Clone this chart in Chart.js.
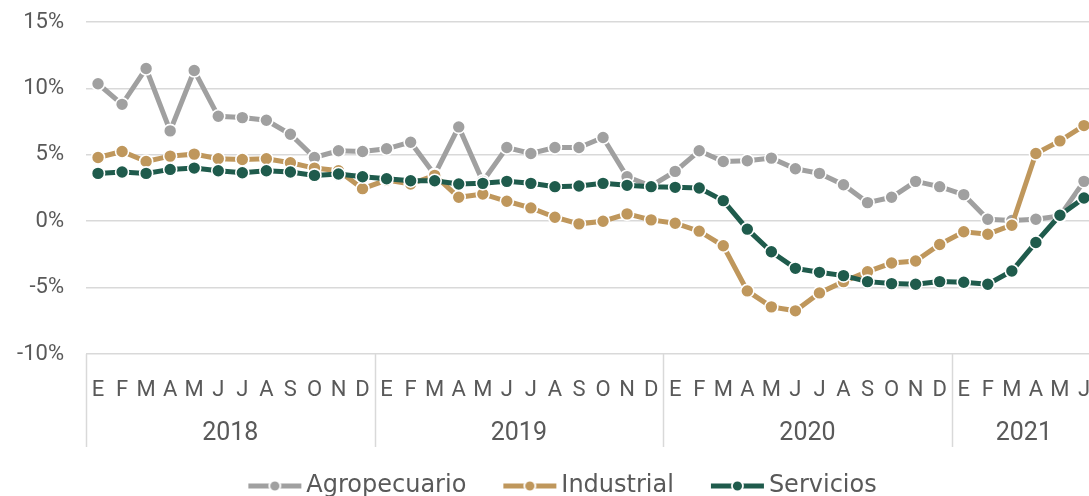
<!DOCTYPE html>
<html>
<head>
<meta charset="utf-8">
<script src="https://cdn.jsdelivr.net/npm/chart.js@4.4.1/dist/chart.umd.min.js"></script>
<style>
  html, body { margin: 0; padding: 0; background: #ffffff; overflow: hidden; }
  #wrap { width: 1128px; height: 496px; position: relative; }
</style>
</head>
<body>
<div id="wrap"><canvas id="c" width="1128" height="496"></canvas></div>
<script>
// ---- data ----
const categories = [
  'E','F','M','A','M','J','J','A','S','O','N','D',
  'E','F','M','A','M','J','J','A','S','O','N','D',
  'E','F','M','A','M','J','J','A','S','O','N','D',
  'E','F','M','A','M','J'
];
const years = ['2018', '2019', '2020', '2021'];
const monthsPerYear = [12, 12, 12, 6];

const agropecuario = [
  10.35, 8.8, 11.5, 6.8, 11.35, 7.9, 7.8, 7.6, 6.55, 4.8, 5.3, 5.25,
  5.45, 5.95, 3.5, 7.1, 3.0, 5.55, 5.1, 5.55, 5.55, 6.3, 3.35, 2.65,
  3.75, 5.3, 4.5, 4.55, 4.75, 3.95, 3.6, 2.75, 1.4, 1.8, 3.0, 2.6,
  2.0, 0.15, 0.05, 0.15, 0.4, 3.0
];
const industrial = [
  4.8, 5.25, 4.5, 4.9, 5.05, 4.7, 4.65, 4.7, 4.4, 4.0, 3.8, 2.45,
  3.1, 2.8, 3.45, 1.8, 2.05, 1.5, 1.0, 0.3, -0.2, 0.0, 0.55, 0.1,
  -0.15, -0.75, -1.85, -5.25, -6.45, -6.75, -5.4, -4.55, -3.8, -3.15, -3.0, -1.75,
  -0.8, -0.98, -0.3, 5.1, 6.05, 7.2
];
const servicios = [
  3.6, 3.7, 3.6, 3.9, 4.0, 3.8, 3.65, 3.8, 3.7, 3.45, 3.55, 3.35,
  3.2, 3.05, 3.05, 2.8, 2.85, 3.0, 2.85, 2.6, 2.65, 2.85, 2.7, 2.6,
  2.55, 2.5, 1.55, -0.6, -2.3, -3.55, -3.85, -4.1, -4.55, -4.7, -4.75, -4.55,
  -4.6, -4.75, -3.75, -1.6, 0.45, 1.75
];
const yTicks = [-10, -5, 0, 5, 10, 15];

const seriesNames = ['Agropecuario', 'Industrial', 'Servicios'];
const seriesColors = ['#a0a0a0', '#bf975c', '#1f5b4c'];

// ---- styling ----
const FONT = 'Roboto';
const LEGEND_FONT = '"DejaVu Sans"';
const TEXT = '#595959';
const GRID = '#d9d9d9';
const LEGEND_BOX = 75;   // legend box width used by Chart.js
const SYM_W = 57;        // visible legend symbol width

function legendSymbol(color) {
  const c = document.createElement('canvas');
  c.width = LEGEND_BOX + 18; c.height = 16;
  const g = c.getContext('2d');
  const x0 = c.width - SYM_W;
  g.strokeStyle = color; g.lineWidth = 5;
  g.beginPath(); g.moveTo(x0 + 2, 8); g.lineTo(c.width - 2, 8); g.stroke();
  const cx = x0 + SYM_W / 2;
  g.beginPath(); g.arc(cx, 8, 5.5, 0, Math.PI * 2);
  g.fillStyle = color; g.fill();
  g.lineWidth = 1.8; g.strokeStyle = '#ffffff'; g.stroke();
  return c;
}
const symbols = seriesColors.map(legendSymbol);

const yearPlugin = {
  id: 'yearGroups',
  afterDraw(chart) {
    const xs = chart.scales.x;
    const area = chart.chartArea;
    const ctx = chart.ctx;
    const half = (xs.getPixelForValue(1) - xs.getPixelForValue(0)) / 2;
    ctx.save();
    ctx.strokeStyle = GRID;
    ctx.lineWidth = 1.5;
    ctx.fillStyle = TEXT;
    ctx.font = '25px ' + FONT;
    ctx.textAlign = 'center';
    ctx.textBaseline = 'middle';
    let start = 0;
    years.forEach((y, i) => {
      const n = monthsPerYear[i];
      const left = xs.getPixelForValue(start) - half;
      const right = xs.getPixelForValue(start + n - 1) + half;
      ctx.beginPath();
      ctx.moveTo(Math.round(left) + 0.5, area.bottom);
      ctx.lineTo(Math.round(left) + 0.5, area.bottom + 93);
      ctx.stroke();
      ctx.fillText(y, (left + right) / 2, area.bottom + 80);
      start += n;
    });
    ctx.restore();
  }
};

const datasets = [agropecuario, industrial, servicios].map((d, i) => ({
  label: seriesNames[i],
  data: d,
  borderColor: seriesColors[i],
  backgroundColor: seriesColors[i],
  pointBackgroundColor: seriesColors[i],
  pointBorderColor: '#ffffff',
  pointBorderWidth: 1.6,
  pointRadius: 6.5,
  borderWidth: 5,
  tension: 0,
  order: 3 - i,
  pointStyle: 'circle'
}));

new Chart(document.getElementById('c'), {
  type: 'line',
  data: { labels: categories, datasets },
  plugins: [yearPlugin],
  options: {
    responsive: false,
    devicePixelRatio: 1,
    animation: false,
    layout: { padding: { top: 22, right: 32, left: 0, bottom: -12 } },
    plugins: {
      tooltip: { enabled: false },
      legend: {
        position: 'bottom',
        labels: {
          usePointStyle: true,
          pointStyleWidth: LEGEND_BOX,
          boxHeight: 16,
          padding: 8,
          color: TEXT,
          font: { family: LEGEND_FONT, size: 24 },
          sort: (a, b) => a.datasetIndex - b.datasetIndex,
          generateLabels(chart) {
            const items = Chart.defaults.plugins.legend.labels.generateLabels(chart);
            items.forEach(it => { it.pointStyle = symbols[it.datasetIndex]; it.lineWidth = 0; });
            return items;
          }
        }
      }
    },
    scales: {
      x: {
        offset: true,
        grid: { display: false, drawTicks: false },
        border: { display: false },
        ticks: {
          autoSkip: false, maxRotation: 0, minRotation: 0,
          color: TEXT, font: { family: FONT, size: 22 }, padding: 23
        },
        afterFit(scale) { scale.height = 112; }
      },
      y: {
        min: -10, max: 15,
        afterBuildTicks(scale) { scale.ticks = yTicks.map(v => ({ value: v })); },
        grid: { color: GRID, lineWidth: 1.5, drawTicks: false },
        border: { display: false },
        ticks: {
          color: TEXT, font: { family: FONT, size: 22 }, padding: 22,
          callback: v => v + '%'
        },
        afterFit(scale) {
          scale.width = 86;
          scale.paddingTop = 0;
          scale.paddingBottom = 0;
        }
      }
    }
  }
});
</script>
</body>
</html>
